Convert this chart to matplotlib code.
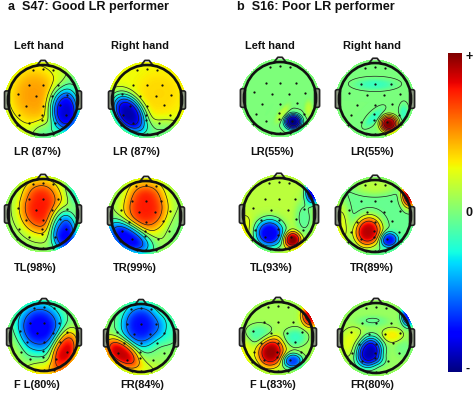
import numpy as np
import matplotlib
matplotlib.use("Agg")
import matplotlib.pyplot as plt
from matplotlib.patches import Circle, FancyBboxPatch

plt.rcParams['font.family'] = ['Liberation Sans', 'DejaVu Sans']

W, H = 474, 393

# Scalp activity: each entry is one visible extremum,
# (x, y, value change, spread x, spread y, tilt in degrees), head radius = 1.
a_left_lr = (0.18, [(-.25, .15, .3, .58, .68, 0), (.62, -.3, -1.05, .34, .5, 10), (.95, .45, -.2, .3, .4, 0), (.05, -1, -.25, .3, .3, 0)])
a_right_lr = (0.28, [(-.52, -.38, -1.2, .33, .5, 35), (.35, .2, .08, .5, .5, 0), (.5, -1, -.3, .6, .35, 0)])
a_left_tl = (0.05, [(-.04, .18, .72, .52, .6, 0), (.58, -.46, -.85, .3, .5, 10), (.95, .7, -.25, .2, .35, 0), (-.1, .9, .1, .5, .3, 0)])
a_right_tr = (0.08, [(0, .24, .68, .5, .56, 0), (-.5, -.6, -.88, .55, .3, -30), (.95, -.4, -.08, .3, .4, 0), (0, .9, .1, .5, .3, 0)])
a_left_fl = (0.03, [(-.12, .3, -.8, .55, .58, 0), (.6, -.37, .85, .3, .48, -15), (0, -1.05, .3, .5, .28, 0), (-.95, -.3, .12, .3, .5, 0)])
a_right_fr = (0.05, [(0, .39, -.78, .48, .54, 0), (-.56, -.42, .85, .46, .28, -35), (.8, .3, -.2, .3, .4, 0), (.1, -.95, .15, .5, .25, 0)])
b_left_lr = (0.0, [(.37, -.65, -1.0, .19, .17, 0), (.07, -.42, .16, .09, .24, -35), (.8, -.28, .16, .09, .18, 0)])
b_right_lr = (0.0, [(.39, -.68, 1.0, .2, .19, 0), (-.03, -.5, -.18, .1, .25, -45), (.0, .42, -.16, .42, .12, 0), (.8, -.37, -.16, .09, .18, 0)])
b_left_tl = (0.15, [(-.26, -.52, -.95, .33, .32, 0), (.37, -.7, .85, .2, .18, 0), (.95, .62, -.95, .18, .26, 0), (.7, -.1, -.22, .2, .4, 0), (-.95, -.5, .15, .2, .4, 0)])
b_right_tr = (-.05, [(-.19, -.42, .95, .3, .34, -20), (.39, -.65, -.68, .2, .17, 0), (.95, .6, .95, .17, .28, 0), (-.95, -.3, .3, .2, .6, 0), (.0, .85, .2, .5, .2, 0)])
b_left_fl = (0.1, [(-.2, -.42, .85, .3, .34, -20), (.42, -.67, -.72, .23, .17, 0), (.92, .62, .75, .2, .25, 0), (.49, 0, -.26, .26, .2, 0), (-.53, .09, -.22, .3, .22, 0), (-.95, -.5, .18, .2, .4, 0)])
b_right_fr = (0.07, [(-.2, -.39, -1.0, .3, .34, -20), (.46, .09, .24, .24, .16, 0), (-.65, -.14, .2, .3, .35, 0), (.92, .66, -.75, .16, .25, 0), (-.1, .5, -.12, .35, .12, 0), (.15, -.65, -.1, .14, .12, 0), (.8, -.3, -.09, .2, .2, 0)])

head_fields = [a_left_lr, a_right_lr, a_left_tl, a_right_tr, a_left_fl, a_right_fr,
               b_left_lr, b_right_lr, b_left_tl, b_right_tr, b_left_fl, b_right_fr]

electrode_x = [-.28, 0, .28, -.40, 0, .44, -.72, -.21, .25, .69, -.5, 0, .48, -.68, -.03, .67, -.4, -.03, .34, -.74, .71, -.26, 0, .28]
electrode_y = [.86, .88, .86, .42, .42, .42, .17, .12, .12, .14, -.16, -.16, -.14, -.44, -.42, -.44, -.65, -.58, -.65, -.71, -.69, -.97, -.97, -.97]

column_titles = ["Left hand", "Right hand"]
panel_titles = ["a  S47: Good LR performer", "b  S16: Poor LR performer"]
head_labels = ["LR (87%)", "LR (87%)", "TL(98%)", "TR(99%)", "F L(80%)", "FR(84%)",
               "LR(55%)", "LR(55%)", "TL(93%)", "TR(89%)", "F L(83%)", "FR(80%)"]
colorbar_labels = ["+", "0", "-"]

# layout in pixels
head_cx = [43, 147, 43, 146, 44, 141, 280, 375, 279, 375, 278, 376]
head_cy = [100, 100, 214, 216, 337, 338, 98, 99, 214, 216, 337, 338]
head_r = [35, 35, 35, 35, 34, 34, 36, 36, 36, 36, 35, 35]
label_x = [14, 113, 14, 113, 14, 120, 250, 350, 250, 350, 250, 350]
label_y = [152, 152, 268, 268, 385, 385, 152, 152, 268, 268, 385, 385]
col_title_x = [14, 111, 245, 343]
panel_title_x = [8, 237]

fig = plt.figure(figsize=(W / 100, H / 100), dpi=100, facecolor='white')


def ptext(x, y, s, size=7.9, **kw):
    fig.text(x / W, 1 - y / H, s, fontsize=size, fontweight='bold', va='center', color='#111111', **kw)


def field(spec, X, Y):
    base, sources = spec
    Z = np.full_like(X, base, dtype=float)
    for x0, y0, amp, sx, sy, tilt in sources:
        t = np.radians(tilt)
        u = (X - x0) * np.cos(t) + (Y - y0) * np.sin(t)
        v = -(X - x0) * np.sin(t) + (Y - y0) * np.cos(t)
        Z += amp * np.exp(-0.5 * ((u / sx) ** 2 + (v / sy) ** 2) ** 1.5)
    return Z


g = np.linspace(-1.3, 1.3, 261)
X, Y = np.meshgrid(g, g)
for spec, cx, cy, r in zip(head_fields, head_cx, head_cy, head_r):
    span = 1.3 * r
    ax = fig.add_axes([(cx - span) / W, 1 - (cy + span) / H, 2 * span / W, 2 * span / H])
    ax.set_xlim(-1.3, 1.3)
    ax.set_ylim(-1.3, 1.3)
    ax.axis('off')
    Z = field(spec, X, Y)
    inside = Z[X ** 2 + Y ** 2 <= 1]
    levels = np.linspace(inside.min(), inside.max(), 8)[1:-1]
    mesh = ax.pcolormesh(X, Y, Z, cmap='jet', vmin=-1, vmax=1, shading='gouraud', rasterized=True)
    mesh.set_clip_path(Circle((0, 0), 1.08, transform=ax.transData))
    cs = ax.contour(X, Y, Z, levels=levels, colors='#202020', linewidths=0.5, linestyles='solid')
    cs.set_clip_path(Circle((0, 0), 1.0, transform=ax.transData))
    ax.add_patch(Circle((0, 0), 1.0, fill=False, ec='#111111', lw=1.9, zorder=5))
    for s in (-1, 1):
        ax.add_patch(FancyBboxPatch((s * 1.03 - .05, -.24), .10, .48, boxstyle='round,pad=0.02,rounding_size=.05',
                                    fc='#8d9a82', ec='#222222', lw=1.2, zorder=4))
    ax.plot([-.17, -.06, .06, .17], [.99, 1.13, 1.13, .99], color='#222222', lw=1.3, zorder=4)
    ax.scatter(electrode_x, electrode_y, s=2.6, c='#111111', lw=0, zorder=6)

for x, s in zip(panel_title_x, panel_titles):
    ptext(x, 7, s, size=9.1)
for x, s in zip(col_title_x, column_titles * 2):
    ptext(x, 46, s)
for x, y, s in zip(label_x, label_y, head_labels):
    ptext(x, y, s)

cax = fig.add_axes([448 / W, 1 - 372 / H, 14 / W, 319 / H])
cax.imshow(np.linspace(1, -1, 256)[:, None], cmap='jet', vmin=-1, vmax=1, aspect='auto', extent=[0, 1, -1, 1])
cax.set_xticks([])
cax.set_yticks([])
for s in cax.spines.values():
    s.set_visible(False)
for y, s in zip([57, 213, 369], colorbar_labels):
    ptext(466, y, s, size=9)

fig.savefig('out.png', dpi=100, facecolor='white')
